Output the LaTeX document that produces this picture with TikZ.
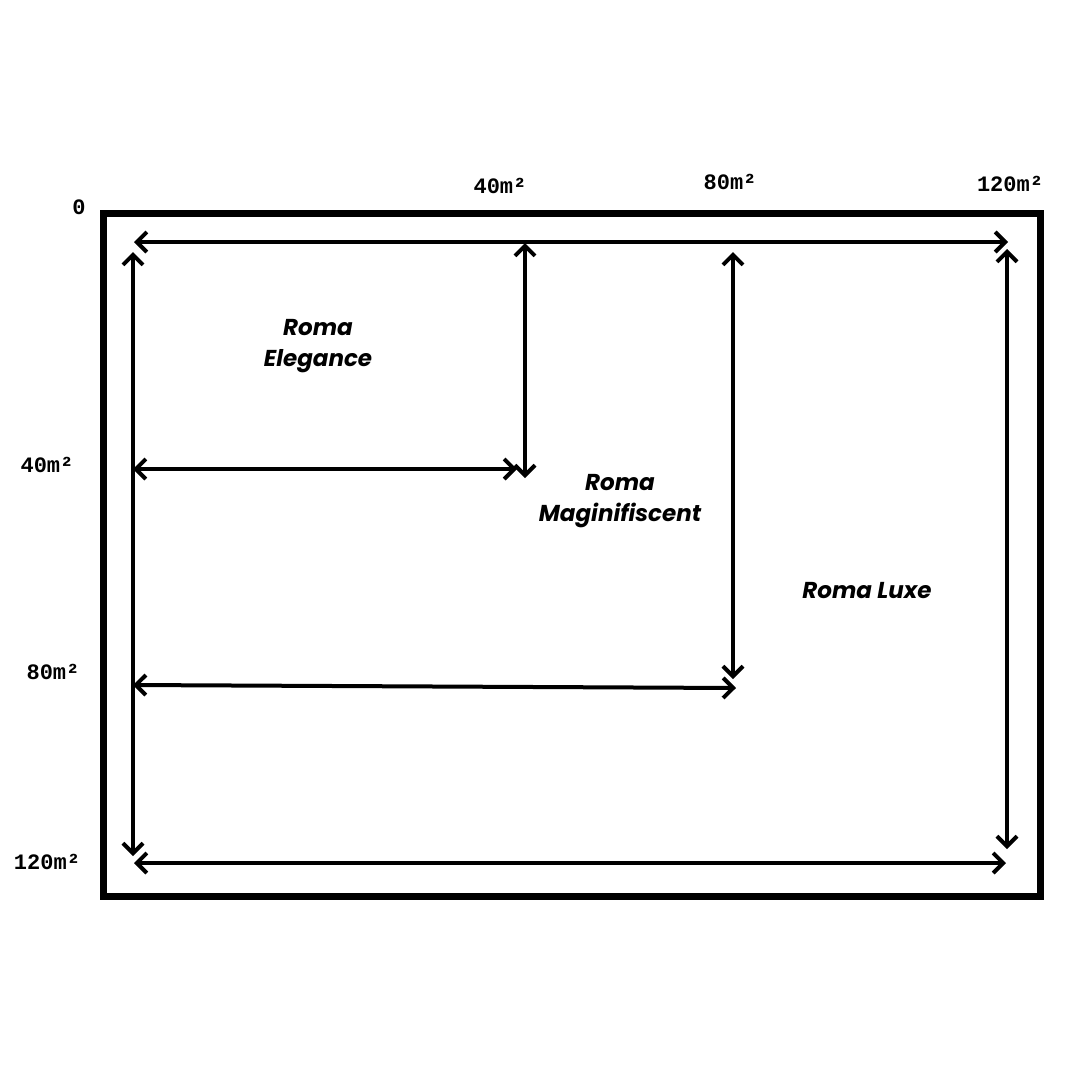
\documentclass[tikz,border=0pt]{standalone}
\usepackage{fontspec}
\newfontfamily\sizefont{Liberation Mono}
\newfontfamily\roomfont{Poppins}
\usetikzlibrary{arrows.meta}
\tikzset{
  wall/.style={line width=7pt},
  dimline/.style={line width=4pt,
    {Straight Barb[length=10pt,width=20pt]}-{Straight Barb[length=10pt,width=20pt]}},
  sizelabel/.style={font=\sizefont\bfseries\fontsize{22}{24}\selectfont, inner sep=0pt},
  roomlabel/.style={font=\roomfont\bfseries\itshape\fontsize{23}{31}\selectfont, align=center, inner sep=0pt},
}
\begin{document}
\begin{tikzpicture}[x=1pt,y=-1pt]
  \useasboundingbox (0,0) rectangle (1080,1080);
  % outer wall
  \draw[wall] (103,213) rectangle (1040,896);
  % end points of the dimension lines
  \coordinate (topL) at (134,242);
  \coordinate (topR) at (1008,242);
  \coordinate (leftT) at (133,252);
  \coordinate (leftB) at (133,856);
  \coordinate (fortyT) at (525,243);
  \coordinate (fortyB) at (525,478);
  \coordinate (fortyL) at (133,469);
  \coordinate (fortyR) at (517,469);
  \coordinate (eightyT) at (733,252);
  \coordinate (eightyB) at (733,679);
  \coordinate (eightyL) at (133,685);
  \coordinate (eightyR) at (736,688);
  \coordinate (rightT) at (1007,249);
  \coordinate (rightB) at (1007,849);
  \coordinate (botL) at (134,863);
  \coordinate (botR) at (1006,863);
  % dimension lines
  \draw[dimline] (topL) -- (topR);
  \draw[dimline] (leftT) -- (leftB);
  \draw[dimline] (fortyT) -- (fortyB);
  \draw[dimline] (fortyL) -- (fortyR);
  \draw[dimline] (eightyT) -- (eightyB);
  \draw[dimline] (eightyL) -- (eightyR);
  \draw[dimline] (rightT) -- (rightB);
  \draw[dimline] (botL) -- (botR);
  % scale labels
  \node[sizelabel] (origin) at (79,207) {0};
  \node[sizelabel] (xforty) at (500,186) {40m²};
  \node[sizelabel] (xeighty) at (730,182) {80m²};
  \node[sizelabel] (xonetwenty) at (1010,184) {120m²};
  \node[sizelabel] (yforty) at (47,465) {40m²};
  \node[sizelabel] (yeighty) at (53,672) {80m²};
  \node[sizelabel] (yonetwenty) at (47,862) {120m²};
  % rooms
  \node[roomlabel] (elegance) at (318,346) {Roma\\Elegance};
  \node[roomlabel] (magnificent) at (620,501) {Roma\\Maginifiscent};
  \node[roomlabel] (luxe) at (867,591) {Roma Luxe};
\end{tikzpicture}
\end{document}
